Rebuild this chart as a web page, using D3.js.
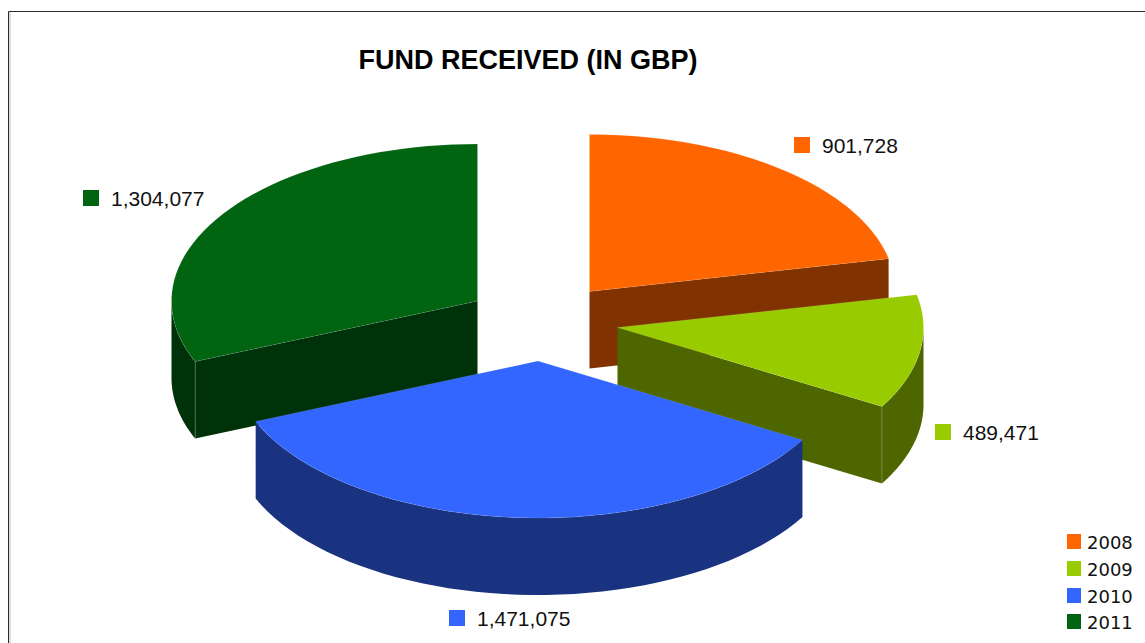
<!DOCTYPE html>
<html>
<head>
<meta charset="utf-8">
<script src="https://cdn.jsdelivr.net/npm/d3@7/dist/d3.min.js"></script>
<style>
html,body{margin:0;padding:0;background:#fff;overflow:hidden}
svg{display:block}
</style>
</head>
<body>
<svg id="c" width="1145" height="643"></svg>
<script>
const years = ["2008","2009","2010","2011"];
const funds = [901728,489471,1471075,1304077];
const topColors = ["#ff6600","#99cc00","#3366ff","#006411"];
const sideColors = ["#803300","#4d6600","#1a3380","#003209"];
const titleText = "FUND RECEIVED (IN GBP)";

// layout only
const W = 1145, H = 643, RX = 306, RY = 157, DEPTH = 77;
const apexes = [[589.5,291.5],[617.5,327.5],[538,361],[477.5,301]];
const swatches = [[794,137],[935,424],[449,610],[83,190]];
const legendTops = [534,561,588,614];
const drawOrder = [0,3,1,2];
const faceAngle = ["endAngle","endAngle",null,"startAngle"];
const hasWall = [false,true,true,true];

const svg = d3.select("#c");
svg.append("rect").attr("width",W).attr("height",H).attr("fill","#fff");

// frame
svg.append("rect").attr("x",9).attr("y",12).attr("width",2).attr("height",H-12).attr("fill","#dddddd");
svg.append("path").attr("d",`M8.5,${H}V11.5H${W}`).attr("fill","none").attr("stroke","#2b2b2b").attr("stroke-width",1);

const arcs = d3.pie().sort(null).value(d=>d)(funds);
const color = d3.scaleOrdinal(years, topColors);
const side = d3.scaleOrdinal(years, sideColors);
const sx = d3.scaleLinear().domain([-1,1]).range([-RX,RX]);
const sy = d3.scaleLinear().domain([-1,1]).range([RY,-RY]);
const pt = (i,a,dz=0)=>[apexes[i][0]+sx(Math.sin(a)), apexes[i][1]+sy(Math.cos(a))+dz];

function ellipseArc(p,from,to,i,dz){
  const steps = 48;
  for(let s=1;s<=steps;s++){
    const q = pt(i, from+(to-from)*s/steps, dz);
    p.lineTo(q[0],q[1]);
  }
}

const edge = "rgba(255,255,255,0.2)";
const pieG = svg.append("g");
drawOrder.forEach(i=>{
  const d = arcs[i];
  const g = pieG.append("g").attr("class","slice").datum(years[i]);
  const [ax,ay] = apexes[i];
  // outer wall
  if(hasWall[i]){
    const a0 = Math.max(d.startAngle,Math.PI/2), a1 = Math.min(d.endAngle,3*Math.PI/2);
    const p = d3.path();
    let q = pt(i,a0); p.moveTo(q[0],q[1]);
    ellipseArc(p,a0,a1,i,0);
    q = pt(i,a1,DEPTH); p.lineTo(q[0],q[1]);
    ellipseArc(p,a1,a0,i,DEPTH);
    p.closePath();
    g.append("path").attr("d",p.toString()).attr("fill",side(years[i]));
  }
  // cut face
  if(faceAngle[i]){
    const e = pt(i,d[faceAngle[i]]);
    const p = d3.path();
    p.moveTo(ax,ay); p.lineTo(e[0],e[1]); p.lineTo(e[0],e[1]+DEPTH); p.lineTo(ax,ay+DEPTH); p.closePath();
    g.append("path").attr("d",p.toString()).attr("fill",side(years[i]));
    g.append("path").attr("d",`M${e[0]},${e[1]}V${e[1]+DEPTH}`).attr("stroke",edge).attr("stroke-width",1).attr("fill","none");
  }
  // top
  const p = d3.path();
  p.moveTo(ax,ay);
  let q = pt(i,d.startAngle); p.lineTo(q[0],q[1]);
  ellipseArc(p,d.startAngle,d.endAngle,i,0);
  p.closePath();
  g.append("path").attr("d",p.toString()).attr("fill",color(years[i])).attr("stroke",edge).attr("stroke-width",0.5);
});

// title
svg.append("text").attr("x",528).attr("y",69).attr("text-anchor","middle")
  .attr("font-family","'Liberation Sans',Arial,sans-serif").attr("font-weight","bold")
  .attr("font-size",27).attr("fill","#000").text(titleText);

// value labels
const fmt = d3.format(",");
funds.forEach((v,i)=>{
  const [x,y] = swatches[i];
  svg.append("rect").attr("x",x).attr("y",y).attr("width",16).attr("height",16).attr("fill",color(years[i]));
  svg.append("text").attr("x",x+28).attr("y",y+15.5)
    .attr("font-family","'Liberation Sans',Arial,sans-serif").attr("font-size",21)
    .attr("fill","#111").text(fmt(v));
});

// legend
years.forEach((y,i)=>{
  svg.append("rect").attr("x",1067).attr("y",legendTops[i]).attr("width",14).attr("height",15).attr("fill",color(y));
  svg.append("text").attr("x",1087).attr("y",legendTops[i]+15)
    .attr("font-family","'DejaVu Sans',Verdana,sans-serif").attr("font-size",18)
    .attr("fill","#111").text(y);
});
</script>
</body>
</html>
